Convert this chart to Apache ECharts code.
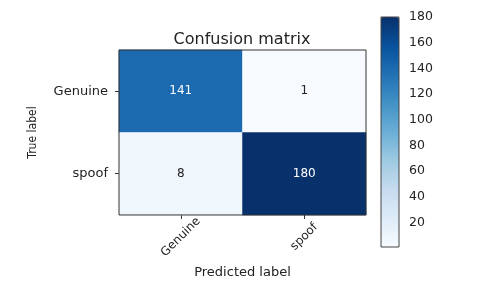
<!DOCTYPE html>
<html>
<head>
<meta charset="utf-8">
<script src="https://cdn.jsdelivr.net/npm/echarts@6/dist/echarts.min.js"></script>
<style>html,body{margin:0;padding:0;background:#fff}#c{width:480px;height:284px}</style>
</head>
<body>
<div id="c"></div>
<script>
const predictedLabels = ['Genuine', 'spoof'];
const trueLabels = ['Genuine', 'spoof'];
// rows: true label, cols: predicted label
const matrixValues = [
  [141, 1],
  [8, 180]
];
const colorbarTicks = [20, 40, 60, 80, 100, 120, 140, 160, 180];
const colorMin = 1;
const colorMax = 180;

const blues = ['#f7fbff','#deebf7','#c6dbef','#9ecae1','#6baed6','#4292c6','#2171b5','#08519c','#08306b'];
const font = 'DejaVu Sans';
const txt = '#222';

const data = [];
matrixValues.forEach((row, i) => row.forEach((v, j) => data.push([j, i, v])));
const thresh = colorMax / 2;

const chart = echarts.init(document.getElementById('c'), null, {renderer: 'canvas'});
chart.setOption({
  animation: false,
  backgroundColor: '#fff',
  title: {
    text: 'Confusion matrix', left: 242, top: 32, textAlign: 'center', padding: 0,
    textStyle: {fontFamily: font, fontSize: 16, fontWeight: 'normal', color: txt}
  },
  grid: [
    {left: 119, top: 50, width: 247, height: 165, show: true, borderColor: '#333', borderWidth: 1, backgroundColor: 'transparent', z: 10},
    {left: 381, top: 17, width: 18, height: 230, show: true, borderColor: '#444', borderWidth: 1, backgroundColor: 'transparent', z: 10}
  ],
  xAxis: [
    {
      type: 'category', data: predictedLabels, gridIndex: 0, position: 'bottom',
      name: 'Predicted label', nameLocation: 'middle', nameGap: 41,
      nameTextStyle: {fontFamily: font, fontSize: 13, color: txt},
      axisLine: {show: false},
      axisTick: {show: true, alignWithLabel: true, length: 4, lineStyle: {color: '#333'}},
      axisLabel: {rotate: 45, fontFamily: font, fontSize: 12, color: txt, margin: 22, align: 'center', verticalAlign: 'middle'},
      splitLine: {show: false}
    },
    {type: 'value', gridIndex: 1, show: false, min: 0, max: 1}
  ],
  yAxis: [
    {
      type: 'category', data: trueLabels, gridIndex: 0, inverse: true,
      name: 'True label', nameLocation: 'middle', nameGap: 80, nameRotate: 90,
      nameTextStyle: {fontFamily: 'Liberation Sans Narrow, DejaVu Sans Condensed, Liberation Sans', fontSize: 12, color: txt},
      axisLine: {show: false},
      axisTick: {show: true, alignWithLabel: true, length: 4, lineStyle: {color: '#333'}},
      axisLabel: {fontFamily: font, fontSize: 13, color: txt, margin: 11},
      splitLine: {show: false}
    },
    {
      type: 'value', gridIndex: 1, position: 'right', min: colorMin, max: colorMax,
      axisLine: {show: false},
      axisTick: {show: true, length: 4, customValues: colorbarTicks, lineStyle: {color: '#333'}},
      axisLabel: {fontFamily: font, fontSize: 12.5, color: txt, margin: 10, customValues: colorbarTicks},
      splitLine: {show: false}
    }
  ],
  visualMap: {
    type: 'continuous', min: colorMin, max: colorMax, seriesIndex: 0,
    calculable: false, show: true, orient: 'vertical',
    left: 381, top: 17, itemWidth: 18, itemHeight: 230, padding: 0,
    text: null, showLabel: false,
    inRange: {color: blues}
  },
  series: [{
    type: 'heatmap', xAxisIndex: 0, yAxisIndex: 0,
    data: data.map(d => ({value: d, label: {color: d[2] > thresh ? '#fff' : '#222'}})),
    itemStyle: {borderWidth: 0},
    label: {
      show: true, fontFamily: font, fontSize: 12,
      formatter: p => String(p.value[2])
    }
  }]
});
</script>
</body>
</html>
